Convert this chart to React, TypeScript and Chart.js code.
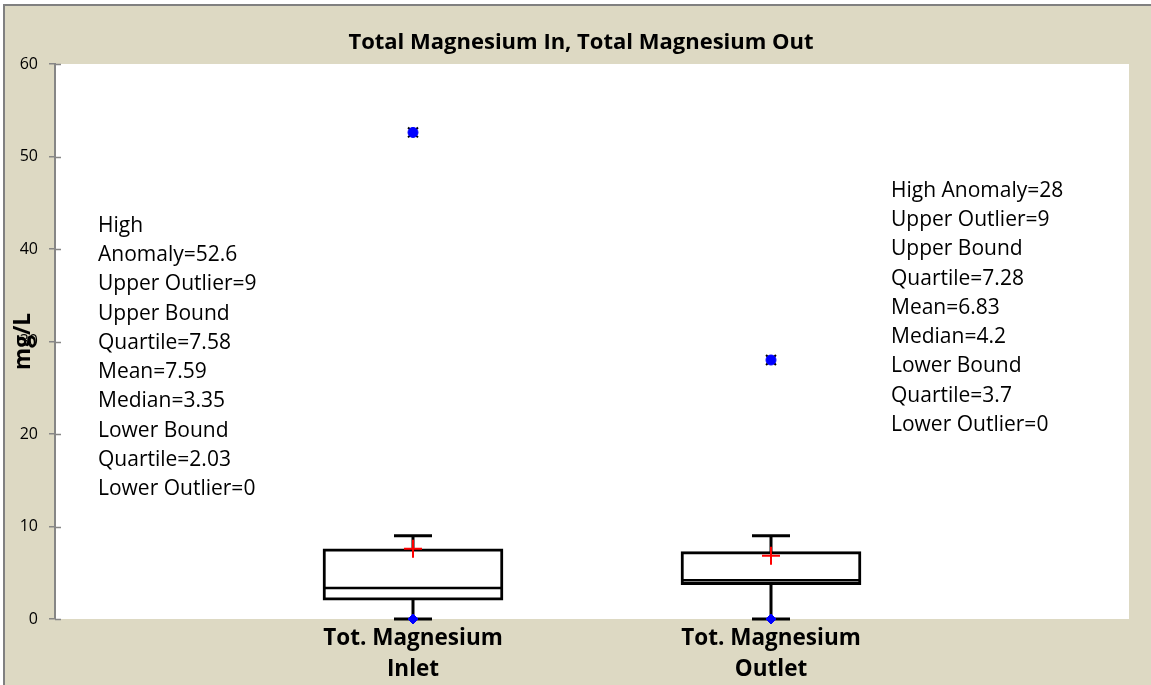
import React, { useEffect, useRef } from 'react';
import { Chart, registerables } from 'chart.js';

Chart.register(...registerables);

// ---- data ----
const categories: string[][] = [
  ['Tot. Magnesium', 'Inlet'],
  ['Tot. Magnesium', 'Outlet'],
];
const lowerOutlier = [0, 0];
const lowerQuartile = [2.03, 3.7];
const median = [3.35, 4.2];
const upperQuartile = [7.58, 7.28];
const upperOutlier = [9, 9];
const mean = [7.59, 6.83];
const highAnomaly = [52.6, 28];
const yTicks = [0, 10, 20, 30, 40, 50, 60];

const chartTitle = 'Total Magnesium In, Total Magnesium Out';
const yTitle = 'mg/L';
const leftNote = [
  'High',
  'Anomaly=52.6',
  'Upper Outlier=9',
  'Upper Bound',
  'Quartile=7.58',
  'Mean=7.59',
  'Median=3.35',
  'Lower Bound',
  'Quartile=2.03',
  'Lower Outlier=0',
];
const rightNote = [
  'High Anomaly=28',
  'Upper Outlier=9',
  'Upper Bound',
  'Quartile=7.28',
  'Mean=6.83',
  'Median=4.2',
  'Lower Bound',
  'Quartile=3.7',
  'Lower Outlier=0',
];

// ---- styles ----
const BEIGE = '#DDD9C3';
const FRAME = '#808080';
const AXIS = '#868686';
const FONT = '"Open Sans"';

const xs = categories.map((_, i) => i + 1);

const decorPlugin = {
  id: 'decor',
  beforeDraw(chart: any) {
    const { ctx, width, height, chartArea: a } = chart;
    ctx.save();
    ctx.fillStyle = '#ffffff';
    ctx.fillRect(0, 0, width, height);
    ctx.fillStyle = BEIGE;
    ctx.fillRect(4, 5, width - 4, height - 5);
    ctx.strokeStyle = FRAME;
    ctx.lineWidth = 2;
    ctx.beginPath();
    ctx.moveTo(4, height);
    ctx.lineTo(4, 5);
    ctx.lineTo(width, 5);
    ctx.stroke();
    ctx.fillStyle = '#ffffff';
    ctx.fillRect(a.left, a.top, a.right - a.left, a.bottom - a.top);
    // title
    ctx.fillStyle = '#000000';
    ctx.font = `bold 22px ${FONT}`;
    ctx.textAlign = 'center';
    ctx.textBaseline = 'middle';
    ctx.fillText(chartTitle, 581, 43);
    ctx.restore();
  },
  afterDraw(chart: any) {
    const { ctx, chartArea: a } = chart;
    const ys = chart.scales.y;
    ctx.save();
    // inner half of the crossing tick marks
    ctx.strokeStyle = AXIS;
    ctx.lineWidth = 1.5;
    ys.ticks.forEach((t: any) => {
      const py = Math.round(ys.getPixelForValue(t.value)) + 0.5;
      ctx.beginPath();
      ctx.moveTo(a.left, py);
      ctx.lineTo(a.left + 6, py);
      ctx.stroke();
    });
    // statistics notes
    ctx.fillStyle = '#000000';
    ctx.font = `21px ${FONT}`;
    ctx.textAlign = 'left';
    ctx.textBaseline = 'middle';
    leftNote.forEach((s, i) => ctx.fillText(s, 98, 226 + i * 29.25));
    rightNote.forEach((s, i) => ctx.fillText(s, 891, 191 + i * 29.25));
    ctx.restore();
  },
};

export default function App() {
  const ref = useRef<HTMLCanvasElement | null>(null);

  useEffect(() => {
    if (!ref.current) return;
    const whiskerData: any[] = [];
    xs.forEach((x, i) => {
      whiskerData.push({ x, y: lowerOutlier[i] });
      whiskerData.push({ x, y: upperOutlier[i] });
      whiskerData.push({ x, y: null });
    });
    const capData = xs.flatMap((x, i) => [
      { x, y: lowerOutlier[i] },
      { x, y: upperOutlier[i] },
    ]);

    const chart = new Chart(ref.current, {
      type: 'bar',
      data: {
        datasets: [
          {
            type: 'line',
            label: 'whiskers',
            data: whiskerData,
            borderColor: '#000000',
            borderWidth: 3,
            pointRadius: 0,
            spanGaps: false,
            clip: false,
            order: 10,
          } as any,
          {
            type: 'scatter',
            label: 'caps',
            data: capData,
            pointStyle: 'line',
            pointRadius: 19,
            borderColor: '#000000',
            borderWidth: 3,
            clip: false,
            order: 9,
          } as any,
          {
            type: 'bar',
            label: 'box',
            data: xs.map((x, i) => ({ x, y: [lowerQuartile[i], upperQuartile[i]] })),
            backgroundColor: '#ffffff',
            borderColor: '#000000',
            borderWidth: 3,
            borderSkipped: false,
            barThickness: 180,
            grouped: false,
            clip: false,
            order: 8,
          } as any,
          {
            type: 'scatter',
            label: 'median',
            data: xs.map((x, i) => ({ x, y: median[i] })),
            pointStyle: 'line',
            pointRadius: 89,
            borderColor: '#000000',
            borderWidth: 2.5,
            clip: false,
            order: 7,
          } as any,
          {
            type: 'scatter',
            label: 'anomaly-x',
            data: xs.map((x, i) => ({ x, y: highAnomaly[i] })),
            pointStyle: 'crossRot',
            pointRadius: 7,
            borderColor: '#000000',
            borderWidth: 2,
            clip: false,
            order: 6,
          } as any,
          {
            type: 'scatter',
            label: 'High Anomaly',
            data: xs.map((x, i) => ({ x, y: highAnomaly[i] })),
            pointStyle: 'circle',
            pointRadius: 5,
            backgroundColor: '#0000FF',
            borderColor: '#0000FF',
            borderWidth: 1,
            clip: false,
            order: 5,
          } as any,
          {
            type: 'scatter',
            label: 'Lower Outlier',
            data: xs.map((x, i) => ({ x, y: lowerOutlier[i] })),
            pointStyle: 'rectRot',
            pointRadius: 5,
            backgroundColor: '#0000FF',
            borderColor: '#0000FF',
            borderWidth: 1,
            clip: false,
            order: 4,
          } as any,
          {
            type: 'scatter',
            label: 'Mean',
            data: xs.map((x, i) => ({ x, y: mean[i] })),
            pointStyle: 'cross',
            pointRadius: 9,
            borderColor: '#FF0000',
            borderWidth: 2,
            clip: false,
            order: 3,
          } as any,
        ],
      },
      options: {
        animation: false,
        responsive: false,
        devicePixelRatio: 1,
        events: [],
        layout: { autoPadding: false, padding: { top: 64, right: 22, left: 0, bottom: 0 } },
        plugins: {
          legend: { display: false },
          tooltip: { enabled: false },
          title: { display: false },
        },
        scales: {
          x: {
            type: 'linear',
            min: 0,
            max: xs.length + 1,
            offset: false,
            afterBuildTicks: (s: any) => {
              s.ticks = xs.map((v) => ({ value: v }));
            },
            afterFit: (s: any) => {
              s.height = 66;
              s.paddingLeft = 0;
              s.paddingRight = 0;
            },
            ticks: {
              autoSkip: false,
              maxRotation: 0,
              padding: 4.5,
              color: '#000000',
              font: { family: FONT, size: 22.5, weight: 'bold', lineHeight: '31px' } as any,
              callback: (v: any) => categories[Math.round(v) - 1] ?? '',
            },
            grid: { display: false, drawTicks: false },
            border: { display: false },
          },
          y: {
            type: 'linear',
            min: yTicks[0],
            max: yTicks[yTicks.length - 1],
            afterBuildTicks: (s: any) => {
              s.ticks = yTicks.map((v) => ({ value: v }));
            },
            afterFit: (s: any) => {
              s.width = 55;
              s.paddingTop = 0;
              s.paddingBottom = 0;
            },
            ticks: {
              padding: 11,
              color: '#000000',
              font: { family: FONT, size: 16 },
            },
            grid: {
              drawOnChartArea: false,
              drawTicks: true,
              tickLength: 6,
              color: AXIS,
              lineWidth: 1.5,
            },
            border: { display: true, color: AXIS, width: 2 },
            title: {
              display: true,
              text: yTitle,
              color: '#000000',
              font: { family: FONT, size: 22.5, weight: 'bold' },
              padding: { top: 10.5, bottom: 0 },
            },
          },
        },
      } as any,
      plugins: [decorPlugin],
    });
    return () => chart.destroy();
  }, []);

  return (
    <div style={{ position: 'absolute', left: 0, top: 0, width: 1151, height: 685 }}>
      <canvas ref={ref} width={1151} height={685} style={{ display: 'block' }} />
    </div>
  );
}
